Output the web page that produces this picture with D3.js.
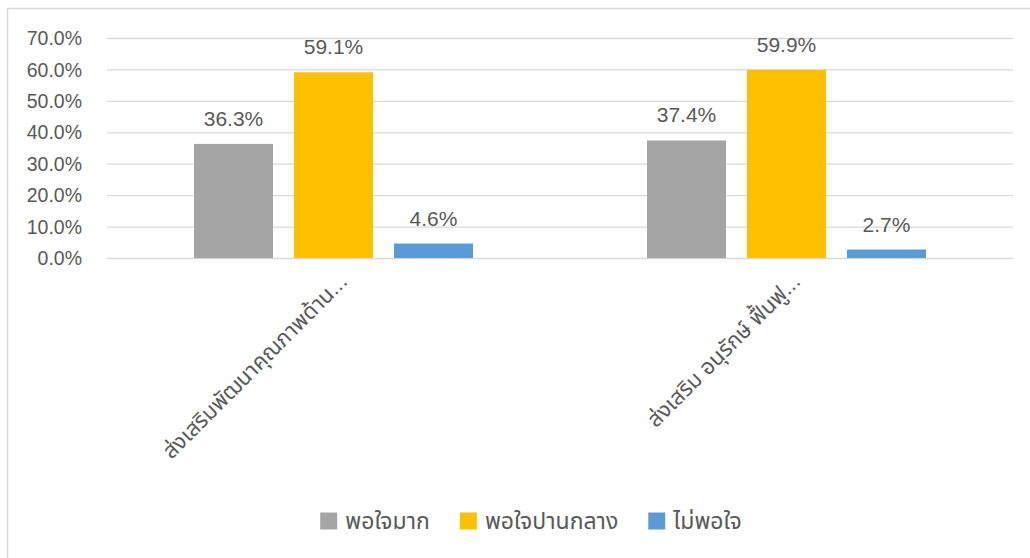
<!DOCTYPE html>
<html>
<head>
<meta charset="utf-8">
<script src="https://cdn.jsdelivr.net/npm/d3@7"></script>
<style>
    body { margin: 0; background: #ffffff; }
    text { font-family: "Liberation Sans", "Noto Sans Thai", "Noto Sans", sans-serif; fill: #595959; }
</style>
</head>
<body>
<div id="chart"></div>
<script>

// chart data
var categories = ["ส่งเสริมพัฒนาคุณภาพด้าน...", "ส่งเสริม อนุรักษ์ ฟื้นฟู..."];
var seriesNames = ["พอใจมาก", "พอใจปานกลาง", "ไม่พอใจ"];
var seriesColors = ["#A5A5A5", "#FFC000", "#5B9BD5"];
var veryValues = [0.363, 0.374];
var midValues = [0.591, 0.599];
var notValues = [0.046, 0.027];
var yTicks = [0, 0.1, 0.2, 0.3, 0.4, 0.5, 0.6, 0.7];

var width = 1030, height = 558;
var margin = {top: 38, right: 17, bottom: 300, left: 107};

var svg = d3.select("#chart").append("svg")
    .attr("width", width)
    .attr("height", height);

// outer chart border (right and bottom run past the picture)
svg.append("rect")
    .attr("x", 7.5)
    .attr("y", 8.5)
    .attr("width", 1100)
    .attr("height", 700)
    .attr("fill", "none")
    .attr("stroke", "#d9d9d9")
    .attr("stroke-width", 1.5);

var plotW = width - margin.left - margin.right;
var plotH = height - margin.top - margin.bottom;

var g = svg.append("g")
    .attr("transform", "translate(" + margin.left + "," + margin.top + ")");

var x0 = d3.scaleBand()
    .domain(categories)
    .range([0, plotW]);

var x1 = d3.scaleBand()
    .domain(seriesNames)
    .range([0, x0.bandwidth()])
    .paddingInner(0.21)
    .paddingOuter(0.87);

var y = d3.scaleLinear()
    .domain([0, 0.7])
    .range([plotH, 0]);

var color = d3.scaleOrdinal()
    .domain(seriesNames)
    .range(seriesColors);

//gridlines
var grid = g.append("g")
    .call(d3.axisLeft(y).tickValues(yTicks).tickSize(-plotW).tickFormat(""));
grid.select(".domain").remove();
grid.selectAll("line").attr("stroke", "#d9d9d9").attr("stroke-width", 1.3);

//y axis labels
var yAxis = g.append("g")
    .attr("transform", "translate(-22,0)")
    .call(d3.axisLeft(y).tickValues(yTicks).tickSize(0).tickFormat(d3.format(".1%")));
yAxis.select(".domain").remove();
yAxis.selectAll("text")
    .style("font-size", "19.5px")
    .attr("fill", "#595959")
    .attr("dy", "0.34em");

// build rows from the arrays
var rows = categories.map(function(c, i){
    return {
        category: c,
        values: [
            {name: seriesNames[0], value: veryValues[i]},
            {name: seriesNames[1], value: midValues[i]},
            {name: seriesNames[2], value: notValues[i]}
        ]
    };
});

var groups = g.selectAll(".group")
    .data(rows)
    .enter()
    .append("g")
    .attr("class", "group")
    .attr("transform", function(d){
        return "translate(" + x0(d.category) + ",0)";
    });

groups.selectAll("rect")
    .data(function(d){ return d.values; })
    .enter()
    .append("rect")
    .attr("x", function(d){ return x1(d.name); })
    .attr("y", function(d){ return y(d.value); })
    .attr("width", x1.bandwidth())
    .attr("height", function(d){ return plotH - y(d.value); })
    .attr("fill", function(d){ return color(d.name); });

groups.selectAll(".label")
    .data(function(d){ return d.values; })
    .enter()
    .append("text")
    .attr("class", "label")
    .attr("x", function(d){ return x1(d.name) + x1.bandwidth() / 2; })
    .attr("y", function(d){ return y(d.value) - 18; })
    .attr("text-anchor", "middle")
    .style("font-size", "21px")
    .text(function(d){ return d3.format(".1%")(d.value); });

//category labels, rotated
g.selectAll(".catLabel")
    .data(categories)
    .enter()
    .append("text")
    .attr("class", "catLabel")
    .attr("text-anchor", "end")
    .style("font-size", "22px")
    .attr("transform", function(d){
        var cx = x0(d) + x0.bandwidth() / 2 + 15;
        return "translate(" + cx + "," + (plotH + 25) + ") rotate(-45)";
    })
    .text(function(d){ return d; });

// legend
var legend = svg.append("g");
var legendItems = legend.selectAll(".legendItem")
    .data(seriesNames)
    .enter()
    .append("g")
    .attr("class", "legendItem");

legendItems.append("rect")
    .attr("width", 17)
    .attr("height", 17)
    .attr("y", -8.5)
    .attr("fill", function(d){ return color(d); });

legendItems.append("text")
    .attr("x", 25)
    .attr("dy", "0.35em")
    .style("font-size", "23px")
    .text(function(d){ return d; });

var nextX = 0;
legendItems.each(function(){
    var item = d3.select(this);
    item.attr("transform", "translate(" + nextX + ",0)");
    nextX += 25 + item.select("text").node().getComputedTextLength() + 30;
});
var legendW = nextX - 30;
legend.attr("transform", "translate(" + (531 - legendW / 2) + ",521)");

</script>
</body>
</html>
